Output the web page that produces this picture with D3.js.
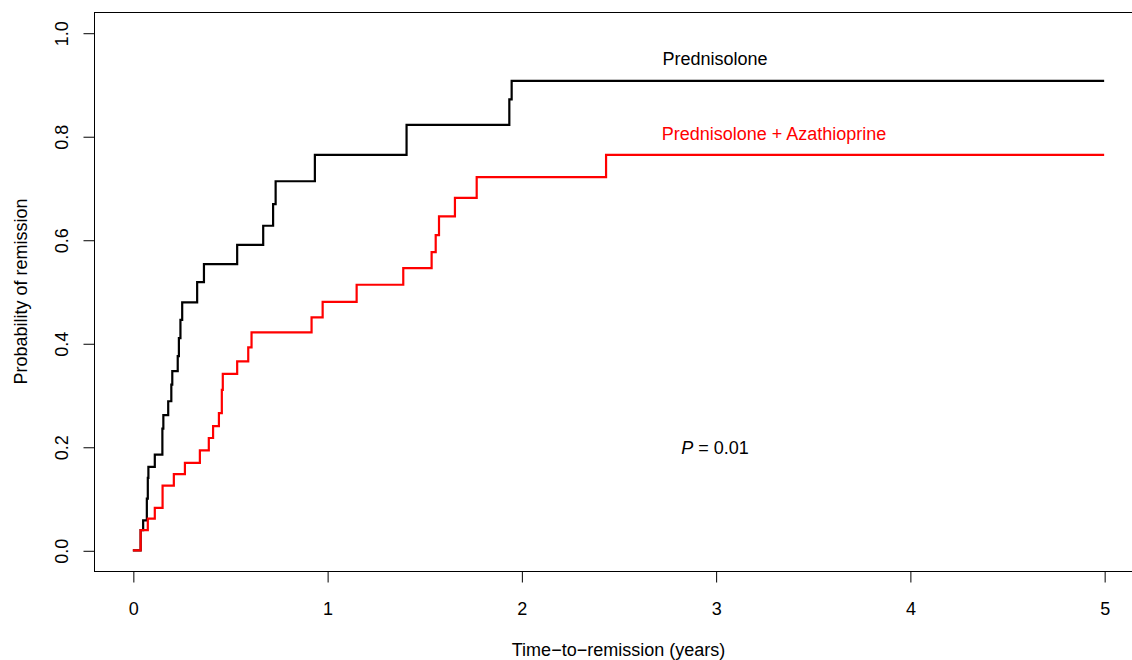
<!DOCTYPE html>
<html lang="en">
<head>
<meta charset="UTF-8">
<title>Time to remission</title>
<style>
  html, body { margin: 0; padding: 0; background: #fff; }
  svg text { font-family: "Liberation Sans", Arial, Helvetica, sans-serif; }
</style>
</head>
<body>
<svg id="chart" width="1132" height="660"></svg>
<script src="https://cdn.jsdelivr.net/npm/d3@7"></script>
<script>
// data (event time in years, cumulative probability after the step)
const predTimes = [0, 0.040, 0.053, 0.072, 0.077, 0.080, 0.113, 0.152, 0.157, 0.182, 0.198, 0.203,
                   0.231, 0.237, 0.245, 0.254, 0.331, 0.366, 0.537, 0.671, 0.722, 0.735, 0.937,
                   1.409, 1.938, 1.950, 5.0];
const predProb  = [0, 0.039, 0.058, 0.100, 0.140, 0.161, 0.185, 0.235, 0.261, 0.288, 0.320, 0.346,
                   0.375, 0.410, 0.445, 0.479, 0.518, 0.553, 0.590, 0.627, 0.669, 0.713, 0.764,
                   0.822, 0.871, 0.907, 0.907];

const azaTimes = [0, 0.040, 0.077, 0.113, 0.153, 0.211, 0.268, 0.345, 0.391, 0.413, 0.443, 0.458,
                  0.463, 0.537, 0.594, 0.611, 0.920, 0.977, 1.152, 1.392, 1.538, 1.559, 1.576,
                  1.658, 1.770, 2.436, 5.0];
const azaProb  = [0, 0.039, 0.061, 0.082, 0.125, 0.147, 0.169, 0.193, 0.217, 0.240, 0.265, 0.310,
                  0.341, 0.365, 0.392, 0.421, 0.450, 0.480, 0.513, 0.545, 0.576, 0.609, 0.645,
                  0.681, 0.721, 0.764, 0.764];

const xTicks = [0, 1, 2, 3, 4, 5];
const yTicks = [0, 0.2, 0.4, 0.6, 0.8, 1.0];
const groupNames = ["Prednisolone", "Prednisolone + Azathioprine"];
const groupColors = ["#000000", "#ff0000"];

// plot region (R style, 4% padding on both axes)
const plotL = 94, plotR = 1143, plotT = 12, plotB = 571;

const x = d3.scaleLinear().domain([-0.2, 5.2]).range([plotL, plotR]);
const y = d3.scaleLinear().domain([-0.04, 1.04]).range([plotB, plotT]);

const svg = d3.select("#chart");

// frame
svg.append("rect")
  .attr("x", plotL + 0.5).attr("y", plotT + 0.5)
  .attr("width", plotR - plotL).attr("height", plotB - plotT)
  .attr("fill", "none").attr("stroke", "#000").attr("stroke-width", 1);

// x axis
const xAxis = d3.axisBottom(x).tickValues(xTicks).tickFormat(d3.format("d"))
  .tickSize(11).tickPadding(20).tickSizeOuter(0);
const gx = svg.append("g").attr("transform", `translate(0.5,${plotB + 0.5})`).call(xAxis);
gx.select(".domain").remove();
gx.selectAll("text").attr("font-size", 18).attr("fill", "#000")
  .attr("font-family", "Liberation Sans, Arial, sans-serif");

// y axis, labels rotated like R
const yAxis = d3.axisLeft(y).tickValues(yTicks).tickFormat(d3.format(".1f"))
  .tickSize(11).tickSizeOuter(0);
const gy = svg.append("g").attr("transform", `translate(${plotL + 0.5},0.5)`).call(yAxis);
gy.select(".domain").remove();
gy.selectAll("text")
  .attr("x", null).attr("dy", null)
  .attr("font-size", 18).attr("fill", "#000")
  .attr("font-family", "Liberation Sans, Arial, sans-serif")
  .attr("text-anchor", "middle")
  .attr("transform", "translate(-27,0) rotate(-90)");

// curves
const line = d3.line()
  .x(d => x(d[0]))
  .y(d => y(d[1]))
  .curve(d3.curveStepAfter);

const series = [
  d3.zip(predTimes, predProb),
  d3.zip(azaTimes, azaProb)
];

svg.append("g").selectAll("path")
  .data(series)
  .join("path")
  .attr("d", line)
  .attr("fill", "none")
  .attr("stroke", (d, i) => groupColors[i])
  .attr("stroke-width", 2.2)
  .attr("stroke-linejoin", "miter");

// labels
svg.append("text").attr("x", 715).attr("y", 65)
  .attr("text-anchor", "middle").attr("font-size", 18).attr("fill", groupColors[0])
  .text(groupNames[0]);
svg.append("text").attr("x", 774).attr("y", 140)
  .attr("text-anchor", "middle").attr("font-size", 18).attr("fill", groupColors[1])
  .text(groupNames[1]);

const pText = svg.append("text").attr("x", 715).attr("y", 454)
  .attr("text-anchor", "middle").attr("font-size", 18).attr("fill", "#000");
pText.append("tspan").attr("font-style", "italic").text("P");
pText.append("tspan").text(" = 0.01");

// axis titles
svg.append("text").attr("x", (plotL + plotR) / 2).attr("y", 656)
  .attr("text-anchor", "middle").attr("font-size", 18).attr("fill", "#000")
  .text("Time\u2212to\u2212remission (years)");
svg.append("text")
  .attr("transform", `translate(27,${(plotT + plotB) / 2}) rotate(-90)`)
  .attr("text-anchor", "middle").attr("font-size", 18).attr("fill", "#000")
  .text("Probability of remission");
</script>
</body>
</html>
